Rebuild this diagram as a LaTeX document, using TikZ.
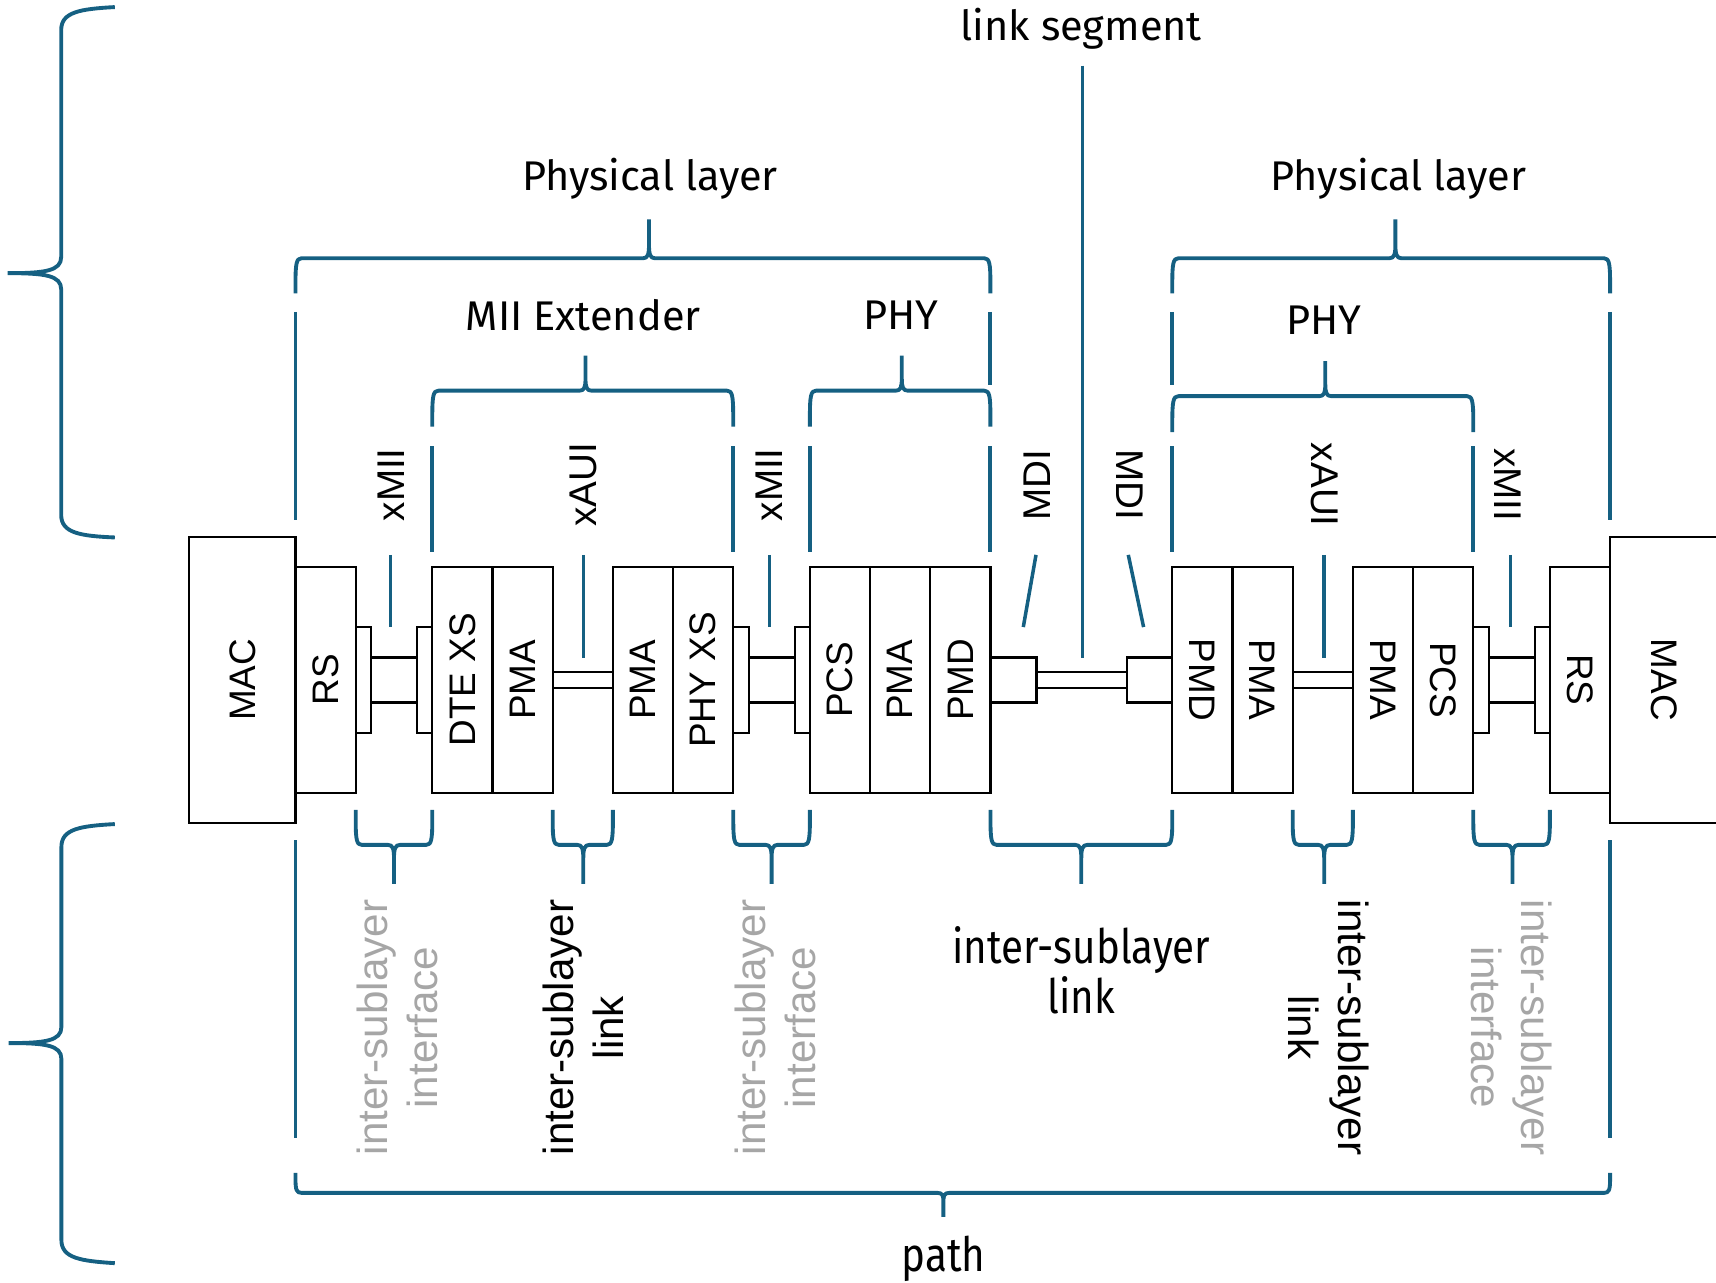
\documentclass[tikz,border=0pt]{standalone}
\usepackage{fontspec}
\setmainfont{Liberation Sans}
\newfontfamily\aptos{Fira Sans}
\newfontfamily\aptosnarrow[FakeStretch=0.85]{Fira Sans}
\usepackage{graphicx}
\usepackage{xcolor}
\usepackage{tikz}
\usetikzlibrary{positioning}
\definecolor{linkblue}{HTML}{156082}
\definecolor{dim}{HTML}{A6A6A6}
\newcommand\rup[1]{\rotatebox{90}{#1}}
\newcommand\rdn[1]{\rotatebox{-90}{#1}}
% brace: left x, right x, tip x, y, end offset, tip offset
\newcommand\brc[6]{%
  \draw[brace] ({#1},{#4+(#5)}) -- ({#1},{#4+0.7*(#5)})
    .. controls ({#1},{#4+0.15*(#5)}) and ({#1+0.01},{#4}) .. ({#1+0.06},{#4})
    -- ({#3-0.06},{#4}) .. controls ({#3-0.012},{#4}) and ({#3},{#4+0.1*(#6)}) .. ({#3},{#4+0.35*(#6)}) -- ({#3},{#4+(#6)})
    ({#2},{#4+(#5)}) -- ({#2},{#4+0.7*(#5)})
    .. controls ({#2},{#4+0.15*(#5)}) and ({#2-0.01},{#4}) .. ({#2-0.06},{#4})
    -- ({#3+0.06},{#4}) .. controls ({#3+0.012},{#4}) and ({#3},{#4+0.1*(#6)}) .. ({#3},{#4+0.35*(#6)}) -- ({#3},{#4+(#6)});}

\begin{document}
\begin{tikzpicture}[every node/.style={inner sep=0pt,outer sep=0pt},
box/.style={draw,line width=.6pt,minimum width=6.02mm,minimum height=22.65mm,font=\fontsize{10.5}{12}\selectfont},
mac/.style={minimum width=10.62mm,minimum height=28.56mm},
port/.style={draw,line width=.6pt,minimum width=1.53mm,minimum height=10.6mm},
mdi/.style={draw,line width=.6pt,minimum width=4.6mm,minimum height=4.5mm},
wire/.style={line width=.6pt},
brace/.style={draw=linkblue,line width=1.1pt,line join=round},
stub/.style={draw=linkblue,line width=1pt},
sig/.style={font=\fontsize{11}{13}\selectfont},
grp/.style={font=\aptos\fontsize{11.8}{14}\selectfont},
isl/.style={align=center,font=\fontsize{12}{14.2}\selectfont},
dimisl/.style={isl,text=dim}]
\useasboundingbox (0,-6.03) rectangle (17.16,6.8);
% left station
\node[box,mac] (macL) at (2.424,0) {\rup{MAC}};
\node[box,right=0pt of macL] (rsL) {\rup{RS}};
\node[port,right=0pt of rsL] (ifA) {};
\node[port,right=4.6mm of ifA] (ifB) {};
\node[box,right=0pt of ifB] (dtexs) {\rup{DTE XS}};
\node[box,right=0pt of dtexs] (pmaA) {\rup{PMA}};
\node[box,right=6.02mm of pmaA] (pmaB) {\rup{PMA}};
\node[box,right=0pt of pmaB] (phyxs) {\rup{PHY XS}};
\node[port,right=0pt of phyxs] (ifC) {};
\node[port,right=4.6mm of ifC] (ifD) {};
\node[box,right=0pt of ifD] (pcsL) {\rup{PCS}};
\node[box,right=0pt of pcsL] (pmaC) {\rup{PMA}};
\node[box,right=0pt of pmaC] (pmdL) {\rup{PMD}};
\node[mdi,right=0pt of pmdL] (mdiA) {};
% right station
\node[mdi,minimum width=4.5mm,right=9.08mm of mdiA] (mdiB) {};
\node[box,right=0pt of mdiB] (pmdR) {\rdn{PMD}};
\node[box,right=0pt of pmdR] (pmaD) {\rdn{PMA}};
\node[box,right=6.02mm of pmaD] (pmaE) {\rdn{PMA}};
\node[box,right=0pt of pmaE] (pcsR) {\rdn{PCS}};
\node[port,right=0pt of pcsR] (ifE) {};
\node[port,right=4.6mm of ifE] (ifF) {};
\node[box,right=0pt of ifF] (rsR) {\rdn{RS}};
\node[box,mac,minimum width=10.9mm,right=0pt of rsR] (macR) {\rdn{MAC}};
% wires
\foreach \a/\b in {ifA/ifB,ifC/ifD,ifE/ifF}{
  \draw[wire] ([yshift=2.25mm]\a.east) -- ([yshift=2.25mm]\b.west);
  \draw[wire] ([yshift=-2.25mm]\a.east) -- ([yshift=-2.25mm]\b.west);}
\foreach \a/\b in {pmaA/pmaB,mdiA/mdiB,pmaD/pmaE}{
  \draw[wire] ([yshift=.77mm]\a.east) -- ([yshift=.77mm]\b.west);
  \draw[wire] ([yshift=-.77mm]\a.east) -- ([yshift=-.77mm]\b.west);}
% interface names
\node[sig,rotate=90] (xmiiA) at (3.907,1.952) {xMII};
\node[sig,rotate=90] (xauiA) at (5.833,1.952) {xAUI};
\node[sig,rotate=90] (xmiiB) at (7.694,1.952) {xMII};
\node[sig,rotate=90] (mdiL) at (10.375,1.952) {MDI};
\node[sig,rotate=-90] (mdiRt) at (11.294,1.952) {MDI};
\node[sig,rotate=-90] (xauiB) at (13.242,1.952) {xAUI};
\node[sig,rotate=-90] (xmiiC) at (15.08,1.952) {xMII};
\draw[stub] (3.907,1.251) -- (3.907,0.529);
\draw[stub] (5.833,1.251) -- (5.833,0.223);
\draw[stub] (7.694,1.251) -- (7.694,0.529);
\draw[stub] (10.36,1.251) -- (10.233,0.529);
\draw[stub] (10.824,6.143) -- (10.824,0.223);
\draw[stub] (11.283,1.251) -- (11.436,0.529);
\draw[stub] (13.242,1.251) -- (13.242,0.223);
\draw[stub] (15.103,1.251) -- (15.103,0.529);
% upper braces
\brc{2.955}{9.904}{6.49}{4.217}{-0.35}{0.39}
\brc{4.323}{7.332}{5.855}{2.893}{-0.36}{0.35}
\brc{8.099}{9.904}{9.018}{2.893}{-0.36}{0.35}
\brc{11.723}{16.101}{13.954}{4.217}{-0.35}{0.39}
\brc{11.723}{14.733}{13.253}{2.838}{-0.36}{0.35}
\foreach \x/\ya/\yb in {2.955/3.681/1.602,9.904/3.681/2.948,11.723/3.681/2.948,16.101/3.681/1.602,
  4.323/2.335/1.284,7.332/2.335/1.284,8.099/2.335/1.284,9.904/2.335/1.284,11.723/2.335/1.284,14.733/2.335/1.284}
  \draw[brace] (\x,\ya) -- (\x,\yb);
\node[grp] (linkseg) at (10.813,6.515) {link segment};
\node[grp] (phylayA) at (6.50,5.016) {Physical layer};
\node[grp] (phylayB) at (13.986,5.016) {Physical layer};
\node[grp] (miiext) at (5.833,3.648) {MII Extender};
\node[grp] (phyA) at (9.007,3.648) {PHY};
\node[grp] (phyB) at (13.242,3.593) {PHY};
% lower braces
\brc{3.557}{4.323}{3.94}{-1.649}{0.35}{-0.39}
\brc{5.527}{6.129}{5.833}{-1.649}{0.35}{-0.39}
\brc{7.333}{8.099}{7.716}{-1.649}{0.35}{-0.39}
\brc{9.905}{11.723}{10.813}{-1.649}{0.35}{-0.39}
\brc{12.927}{13.529}{13.242}{-1.649}{0.35}{-0.39}
\brc{14.733}{15.499}{15.125}{-1.649}{0.35}{-0.39}
\brc{2.955}{16.101}{9.434}{-5.129}{0.2}{-0.24}
\draw[brace] (2.955,-1.605) -- (2.955,-4.582);
\draw[brace] (16.101,-1.605) -- (16.101,-4.582);
\node[dimisl,rotate=90] (islA) at (3.973,-3.476) {inter-sublayer\\interface};
\node[isl,rotate=90] (islB) at (5.828,-3.476) {inter-sublayer\\link};
\node[dimisl,rotate=90] (islC) at (7.754,-3.476) {inter-sublayer\\interface};
\node[isl,font=\aptosnarrow\fontsize{13.5}{14.2}\selectfont] (islD) at (10.813,-2.907) {inter-sublayer\\link};
\node[isl,rotate=-90] (islE) at (13.286,-3.476) {inter-sublayer\\link};
\node[dimisl,rotate=-90] (islF) at (15.114,-3.476) {inter-sublayer\\interface};
\node[font=\aptosnarrow\fontsize{13.5}{16}\selectfont] (pathlbl) at (9.434,-5.786) {path};
% outer braces
\draw[brace] (1.148,6.729) .. controls (0.80,6.71) and (0.612,6.68) .. (0.612,6.50) -- (0.612,4.23)
  .. controls (0.612,4.09) and (0.45,4.068) .. (0.077,4.068)
  (1.148,1.425) .. controls (0.80,1.44) and (0.612,1.47) .. (0.612,1.65) -- (0.612,3.906)
  .. controls (0.612,4.046) and (0.45,4.068) .. (0.077,4.068);
\draw[brace] (1.148,-1.441) .. controls (0.80,-1.46) and (0.614,-1.49) .. (0.614,-1.67) -- (0.614,-3.47)
  .. controls (0.614,-3.61) and (0.45,-3.631) .. (0.086,-3.631)
  (1.148,-5.832) .. controls (0.80,-5.81) and (0.614,-5.78) .. (0.614,-5.60) -- (0.614,-3.79)
  .. controls (0.614,-3.65) and (0.45,-3.631) .. (0.086,-3.631);
\end{tikzpicture}
\end{document}
